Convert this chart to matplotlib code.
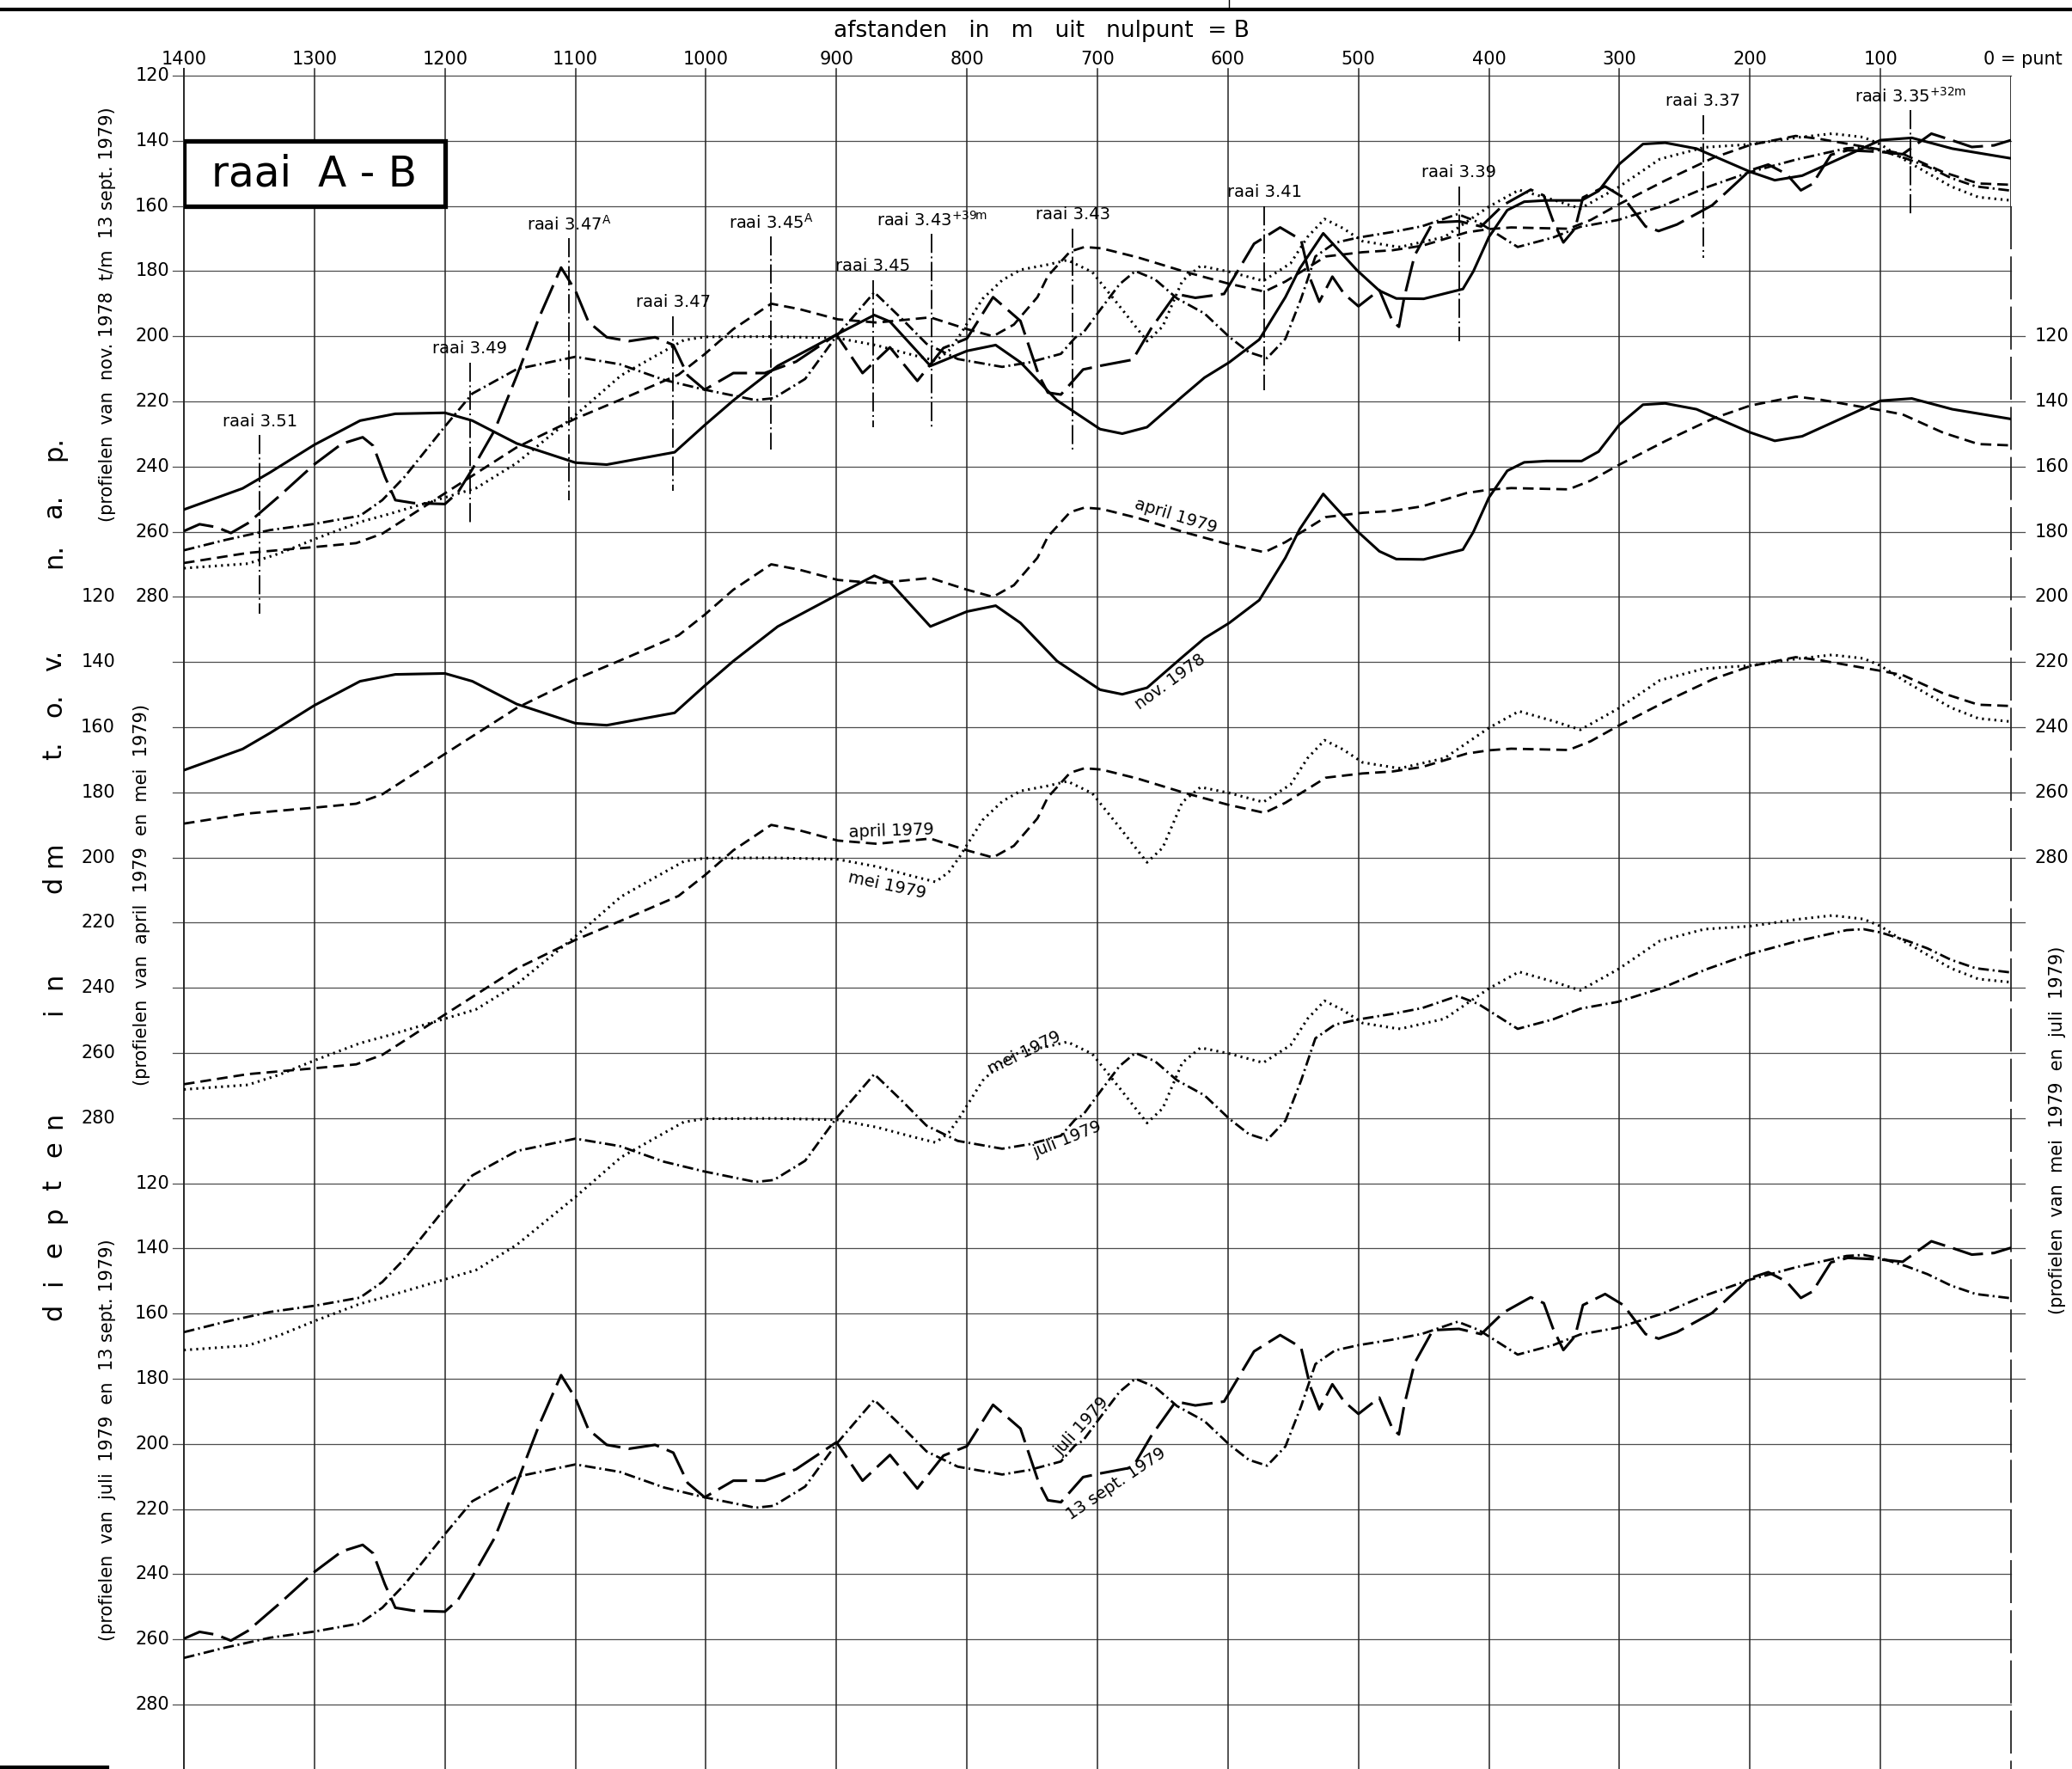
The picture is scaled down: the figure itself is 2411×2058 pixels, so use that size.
import matplotlib.pyplot as plt
from matplotlib.lines import Line2D

plt.rcParams['font.family'] = ['DejaVu Sans']
plt.rcParams['lines.scale_dashes'] = False
plt.rcParams['mathtext.default'] = 'regular'

# profielen raai A-B: afstand in m uit nulpunt B, diepte in dm t.o.v. NAP
nov78_afstand = [1400, 1355, 1334, 1300, 1265, 1238, 1200, 1179, 1145, 1100, 1076, 1024, 1001,
                 979, 945, 900, 871, 859, 828, 800, 778, 759, 731, 698, 681, 662, 635, 618, 599,
                 576, 556, 545, 527, 501, 484, 471, 450, 420, 412, 400, 386, 373, 356, 329, 316,
                 300, 282, 265, 241, 200, 181, 160, 100, 76, 45, 0]
nov78_diepte = [253.2, 246.7, 241.8, 233.3, 225.9, 223.8, 223.5, 225.9, 232.9, 238.8, 239.4, 235.6, 227.3,
                219.7, 209.1, 199.5, 193.5, 195.5, 209.1, 204.5, 202.7, 208, 219.7, 228.5, 229.9, 227.9, 218.5, 212.7, 208,
                201, 188, 179.2, 168.4, 179.8, 186, 188.4, 188.5, 185.5, 180.1, 169.5, 161.3, 158.7, 158.3, 158.3, 155.4,
                147.1, 141, 140.6, 142.4, 149.5, 152.1, 150.7, 139.8, 139.1, 142.4, 145.4]

apr79_afstand = [1400, 1351, 1300, 1268, 1248, 1200, 1145, 1100, 1058, 1021, 1001, 979, 950, 928, 899,
                 869, 828, 800, 780, 764, 746, 738, 721, 710, 697, 669, 633, 600, 572, 556, 525, 497,
                 474, 451, 417, 400, 383, 339, 322, 301, 265, 228, 200, 165, 147, 100, 83, 52, 25, 0]
apr79_diepte = [269.6, 266.5, 264.7, 263.5, 260.6, 248.2, 234.1, 225.3, 218.2, 211.8, 205.5, 197.8, 190, 191.7, 194.8,
                195.8, 194.2, 197.8, 200, 196.4, 188, 181.5, 174, 172.6, 173, 175.8, 180.2, 183.8, 186.3, 183.2, 175.5, 174.2,
                173.6, 172.2, 168.1, 167.1, 166.6, 167, 164.3, 159.6, 152.2, 145.2, 141.3, 138.5, 139.4, 142.7, 144, 149.6, 153.1, 153.5]

mei79_afstand = [1400, 1351, 1327, 1300, 1265, 1244, 1200, 1176, 1145, 1100, 1065, 1038, 1017, 1001, 950,
                 900, 869, 842, 824, 814, 806, 788, 773, 759, 738, 723, 704, 683, 662, 650, 635, 621,
                 599, 573, 552, 539, 526, 512, 497, 474, 468, 434, 400, 377, 350, 330, 301, 269, 235,
                 200, 164, 137, 113, 100, 80, 46, 25, 0]
mei79_diepte = [271.2, 269.8, 266.7, 262.3, 257, 254.7, 249.5, 246.6, 238.9, 224.2, 212, 205.9, 201.2, 200.2, 200.1,
                200.5, 202.8, 205.7, 207.5, 204.5, 200, 188.5, 182.8, 179.6, 178, 176.6, 180.3, 190.8, 201.5, 197, 183, 178.4,
                180.2, 183, 177.6, 169.5, 164, 166.8, 170.8, 172.3, 172.6, 169.5, 160.2, 155.1, 158.2, 160.8, 154.3, 145.6, 142,
                141.1, 139, 137.8, 138.9, 141.1, 146.2, 154, 157.3, 158.3]

jul79_afstand = [1400, 1368, 1334, 1300, 1265, 1248, 1231, 1200, 1179, 1145, 1100, 1066, 1032, 1001, 962,
                 948, 924, 900, 871, 849, 831, 807, 773, 752, 728, 717, 711, 697, 683, 671, 656, 639,
                 618, 599, 584, 570, 556, 544, 533, 518, 500, 474, 451, 424, 408, 378, 351, 330, 301,
                 267, 234, 200, 165, 126, 113, 100, 80, 64, 46, 27, 0]
jul79_diepte = [265.7, 262.5, 259.5, 257.6, 255.1, 250.3, 243.2, 227.7, 217.6, 210.1, 206.3, 208.6, 213.4, 216.4, 219.6,
                219, 213.1, 200, 186.5, 195, 202.3, 207, 209.4, 208, 205.4, 200.4, 199, 191.4, 184, 180, 182.5, 188.4,
                193, 200.2, 204.9, 206.7, 200.8, 188.5, 175.5, 171.3, 169.7, 168, 166.2, 162.5, 165, 172.6, 169.7, 166.4, 164.3,
                160, 154.4, 149.6, 145.8, 142.3, 142, 143, 145.5, 147.9, 151.4, 154, 155.3]

sep79_afstand = [1400, 1388, 1375, 1364, 1351, 1327, 1300, 1279, 1263, 1255, 1246, 1238, 1224, 1200, 1190,
                 1179, 1162, 1145, 1128, 1111, 1100, 1090, 1076, 1059, 1039, 1025, 1014, 1001, 979, 955,
                 931, 900, 880, 859, 838, 818, 800, 780, 759, 745, 738, 728, 711, 697, 673, 659, 640,
                 625, 603, 580, 560, 544, 537, 530, 520, 511, 500, 484, 474, 469, 465, 457, 443, 423,
                 406, 389, 368, 358, 351, 343, 334, 328, 311, 297, 280, 270, 256, 229, 200, 186, 172,
                 161, 152, 138, 125, 100, 83, 61, 47, 30, 13, 0]
sep79_diepte = [259.8, 257.7, 258.6, 260.4, 257.4, 249.1, 239.3, 233, 231, 233.6, 243.1, 250.3, 251.2, 251.5, 247.9,
                240.8, 228.9, 212.2, 194.4, 178.9, 186, 195.6, 200.3, 201.5, 200.3, 202.7, 212, 216.4, 211.3, 211.3,
                207.8, 199.5, 211.3, 203.4, 213.7, 203.6, 200.7, 188, 195.3, 211.9, 217.3, 217.9, 210.2, 209, 207.2, 197.7, 187,
                188.2, 187, 171.6, 166.6, 170.4, 182.3, 189.4, 181.7, 187, 190.8, 185.8, 195.3, 197.1, 188.2, 175.2, 165.1, 164.7,
                166.3, 159.7, 155, 156.8, 164.5, 171.2, 166.9, 157.4, 154, 157.4, 166.3, 167.7, 165.7, 159.8, 149.1, 147.3, 150.2,
                155.2, 153.2, 144.3, 142.9, 143.4, 144.1, 137.8, 139.6, 141.9, 141.4, 139.8]

# raaien (dwarslijnen) in het bovenste blok
raai_namen = ['raai 3.51', 'raai 3.49', 'raai 3.47$^{A}$', 'raai 3.47', 'raai 3.45$^{A}$', 'raai 3.45',
              'raai 3.43$^{+39m}$', 'raai 3.43', 'raai 3.41', 'raai 3.39', 'raai 3.37', 'raai 3.35$^{+32m}$']
raai_afstand = [1342, 1181, 1105, 1025, 950, 872, 827, 719, 572, 423, 236, 77]
raai_boven = [230.4, 208, 169.8, 193.9, 169.4, 182.7, 168.6, 167, 160, 154.1, 132.1, 130.6]
raai_onder = [285.3, 257.4, 250.4, 247.4, 234.7, 228, 228.6, 235.6, 216.6, 201.5, 175.9, 162.7]

afstand_ticks = [1400, 1300, 1200, 1100, 1000, 900, 800, 700, 600, 500, 400, 300, 200, 100]
diepte_ticks = [120, 140, 160, 180, 200, 220, 240, 260, 280]

profielen = {
    'nov': (nov78_afstand, nov78_diepte),
    'apr': (apr79_afstand, apr79_diepte),
    'mei': (mei79_afstand, mei79_diepte),
    'jul': (jul79_afstand, jul79_diepte),
    'sep': (sep79_afstand, sep79_diepte),
}
stijl = {
    'nov': dict(linestyle='-', lw=2.2),
    'apr': dict(dashes=(9, 5), lw=2.0),
    'mei': dict(dashes=(1.6, 3.6), lw=2.2),
    'jul': dict(dashes=(9, 3.2, 1.6, 3.2), lw=2.0),
    'sep': dict(dashes=(26, 7), lw=2.2),
}
# blokken: (verschuiving in dm, profielen)
blokken = [
    (0, ['nov', 'apr', 'mei', 'jul', 'sep']),
    (80, ['nov', 'apr']),
    (160, ['apr', 'mei']),
    (240, ['mei', 'jul']),
    (340, ['jul', 'sep']),
]

fig = plt.figure(figsize=(24.11, 20.58), dpi=100)
ax = fig.add_axes([0.08876, 0.0, 0.8818, 0.95724])
ax.set_xlim(1400, 0)
ax.set_ylim(639.8, 120)
ax.axis('off')

GRID = '0.3'
px = 1 / 1.5186  # m per pixel

# horizontale rasterlijnen
for u in range(120, 621, 20):
    ax.plot([1400 + 13 * px, 0], [u, u], color=GRID, lw=0.9, clip_on=False, zorder=1)
    if 200 <= u <= 520:
        ax.plot([0, -16 * px], [u, u], color=GRID, lw=0.9, clip_on=False, zorder=1)
# verticale rasterlijnen
for d in range(100, 1401, 100):
    ax.plot([d, d], [117.9, 639.8], color='0.15', lw=1.1 if d < 1400 else 1.4,
            clip_on=False, zorder=1)
ax.plot([0, 0], [120, 160], color='0.15', lw=1.3, zorder=1)
ax.plot([0, 0], [160, 639.8], color='0.15', lw=1.3, dashes=(36, 6), clip_on=False, zorder=1)

# assen-teksten
for d in afstand_ticks:
    ax.text(d, 115, str(d), ha='center', va='center', fontsize=15, clip_on=False)
ax.text(-9, 115, '0 = punt', ha='center', va='center', fontsize=15, clip_on=False)
ax.text(743, 106.3, 'afstanden   in   m   uit   nulpunt  = B', ha='center', va='center',
        fontsize=19, clip_on=False)

x_links1 = 1400 + 17 * px
x_links2 = 1400 + 80 * px
for v in diepte_ticks:
    ax.text(x_links1, v, str(v), ha='right', va='center', fontsize=15, clip_on=False)
    if v > 120:
        ax.text(x_links2, v + 160, str(v), ha='right', va='center', fontsize=15, clip_on=False)
    else:
        ax.text(x_links2, 280, str(v), ha='right', va='center', fontsize=15, clip_on=False)
    ax.text(x_links1, v + 340, str(v), ha='right', va='center', fontsize=15, clip_on=False)
    ax.text(-18, v + 80, str(v), ha='left', va='center', fontsize=15, clip_on=False)

ax.text(1458.6, 193.4, '(profielen  van  nov. 1978  t/m  13 sept. 1979)', rotation=90,
        ha='center', va='center', fontsize=15, clip_on=False)
ax.text(1432.3, 371.4, '(profielen  van  april  1979  en  mei  1979)', rotation=90,
        ha='center', va='center', fontsize=15, clip_on=False)
ax.text(1458.9, 538.7, '(profielen  van  juli  1979  en  13 sept. 1979)', rotation=90,
        ha='center', va='center', fontsize=15, clip_on=False)
ax.text(-35.6, 443.7, '(profielen  van  mei  1979  en  juli  1979)', rotation=90,
        ha='center', va='center', fontsize=15, clip_on=False)

# grote letters langs de linkerkant
letters = ['d', 'i', 'e', 'p', 't', 'e', 'n', 'i', 'n', 'd', 'm',
           't.', 'o.', 'v.', 'n.', 'a.', 'p.']
letter_y = [1526, 1492, 1454, 1413, 1379, 1337, 1303, 1177, 1141, 1029, 994,
            873, 820, 768, 647, 589, 522]
for t, y in zip(letters, letter_y):
    ax.text(1499.4, 120 + (y - 88) / 3.79, t, rotation=90, ha='center', va='center',
            fontsize=22, clip_on=False)

# titelkader
ax.add_patch(plt.Rectangle((1400, 140), -200, 20, facecolor='white', edgecolor='black',
                           lw=3.8, zorder=5))
ax.text(1300, 150.3, 'raai  A - B', ha='center', va='center', fontsize=35, zorder=6)

# raaien
for naam, d, u0, u1 in zip(raai_namen, raai_afstand, raai_boven, raai_onder):
    ax.plot([d, d], [u0, u1], color='black', lw=1.3, dashes=(16, 3, 1.5, 3), zorder=3)
    ax.text(d, u0 - 4.3, naam, ha='center', va='center', fontsize=14, zorder=4)

# profielen
for offset, namen in blokken:
    for naam in namen:
        afst, diep = profielen[naam]
        ax.plot(afst, [v + offset for v in diep], color='black', solid_joinstyle='round',
                zorder=4, **stijl[naam])

# namen bij de profielen
labels = [
    ('nov. 1978', 644, 306.2, 36),
    ('april 1979', 640, 255.2, -17),
    ('april 1979', 858, 352, 2),
    ('mei 1979', 861, 368.7, -12),
    ('mei 1979', 756, 420, 26),
    ('juli 1979', 723, 446.5, 22),
    ('juli 1979', 712, 534.5, 48),
    ('13 sept. 1979', 686, 552.4, 34),
]
for t, d, u, rot in labels:
    ax.text(d, u, t, rotation=rot, ha='center', va='center', fontsize=14,
            rotation_mode='anchor', zorder=6)

# kaderlijnen van het blad
fig.add_artist(Line2D([0, 1], [1 - 11 / 2058] * 2, color='black', lw=3))
fig.add_artist(Line2D([1430 / 2411] * 2, [1, 1 - 11 / 2058], color='black', lw=1))
fig.add_artist(Line2D([0, 125 / 2411], [2 / 2058] * 2, color='black', lw=3))

fig.savefig('out.png', dpi=100, facecolor='white')
